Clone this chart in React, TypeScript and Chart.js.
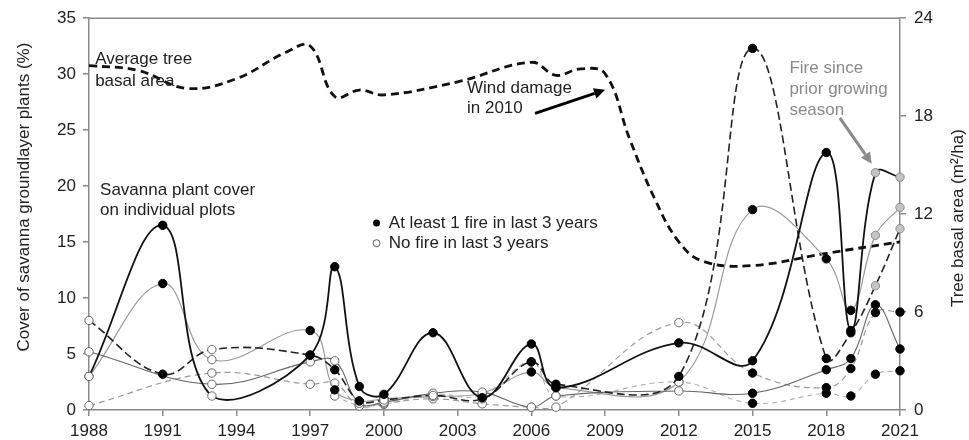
import React, { useEffect, useRef } from "react";
import { Chart, registerables } from "chart.js";
Chart.register(...registerables);

// ---------- DATA ----------
const years = [1988, 1991, 1993, 1997, 1998, 1999, 2000, 2002, 2004, 2006, 2007, 2012, 2015, 2018, 2019, 2020, 2021];

// groundlayer cover (%) on individual plots; null = not sampled
const plotA = [3.0, 16.5, 1.25, 4.9, 12.8, 2.1, 1.4, 6.9, 1.1, 5.9, 2.0, 6.0, 4.4, 23.0, 7.1, 21.2, 20.8];
const plotB = [8.0, 3.2, 5.4, 4.9, 3.6, 0.8, 0.9, 1.3, 1.0, 4.3, 2.3, 3.0, 32.3, 4.6, 6.9, 11.1, 16.2];
const plotC = [5.2, null, 2.3, 4.3, 4.4, 0.6, 0.7, 1.5, 1.6, 0.25, 1.25, 1.7, 1.5, 3.6, 4.6, 9.4, 5.45];
const plotD = [3.0, 11.3, 4.5, 7.1, 1.8, 0.8, 1.0, 1.2, 1.5, 3.4, 2.0, 2.5, 17.9, 13.5, 8.9, 15.6, 18.1];
const plotE = [0.4, null, 3.3, 2.3, 2.4, 0.35, 0.6, 1.0, 0.55, 0.25, 0.25, 7.8, 3.3, 2.0, 3.7, 8.7, 8.75];
const plotF = [null, null, null, null, 1.25, 0.4, 0.5, 1.4, 1.3, 4.3, 1.25, 2.5, 0.6, 1.5, 1.25, 3.2, 3.5];

// fire status per sample: F = at least 1 fire in last 3 years, O = no fire, G = fire since prior growing season
const fireA = "OFOFFFFFFFFFFFFGG";
const fireB = "OFOFFFOOOFFFFFFGG";
const fireC = "O-OOOOOOOOOOFFFFF";
const fireD = "OFOFFFFOOFFOFFFGG";
const fireE = "O-OOOOOOOOOOFFFFF";
const fireF = "----OOOOOFOOFFFFF";

// average tree basal area (m2/ha)
const basalYears = [1988, 1990, 1992, 1994, 1996, 1997, 1998, 1999, 2000, 2003, 2006, 2007, 2008, 2009, 2010, 2011, 2012, 2013, 2015, 2018, 2021];
const basalArea = [21.1, 20.8, 19.7, 20.3, 21.9, 22.3, 19.2, 19.6, 19.3, 20.1, 21.3, 20.5, 20.9, 20.6, 16.6, 13.0, 10.3, 9.1, 8.85, 9.6, 10.3];

const xTickYears = { min: 1988, max: 2021, step: 3 };
const coverTicks = { min: 0, max: 35, step: 5 };
const basalTicks = { min: 0, max: 24, step: 6 };

const leftTitle = "Cover of savanna groundlayer plants (%)";
const rightTitle = "Tree basal area (m\u00B2/ha)";
const legendFire = "At least 1 fire in last 3 years";
const legendNoFire = "No fire in last 3 years";
const noteBasal = ["Average tree", "basal area"];
const noteCover = ["Savanna plant cover", "on individual plots"];
const noteWind = ["Wind damage", "in 2010"];
const noteFire = ["Fire since", "prior growing", "season"];

// ---------- STYLE ----------
const FONT = "'Liberation Sans', Arial, Helvetica, sans-serif";
const AXIS = "#8a8a8a";
const TXT = "#222";

function buildSeries(vals: (number | null)[], fire: string) {
  const pts: { x: number; y: number }[] = [];
  const bg: string[] = [];
  const bd: string[] = [];
  vals.forEach((v, i) => {
    if (v === null) return;
    pts.push({ x: years[i], y: v });
    const s = fire[i];
    bg.push(s === "F" ? "#000" : s === "G" ? "#c4c4c4" : "#fff");
    bd.push(s === "F" ? "#000" : s === "G" ? "#8a8a8a" : "#666");
  });
  return { pts, bg, bd };
}

function arrow(ctx: CanvasRenderingContext2D, x1: number, y1: number, x2: number, y2: number, color: string, w: number, head: number) {
  const ang = Math.atan2(y2 - y1, x2 - x1);
  const bx = x2 - head * Math.cos(ang);
  const by = y2 - head * Math.sin(ang);
  ctx.strokeStyle = color;
  ctx.fillStyle = color;
  ctx.lineWidth = w;
  ctx.setLineDash([]);
  ctx.beginPath();
  ctx.moveTo(x1, y1);
  ctx.lineTo(bx, by);
  ctx.stroke();
  ctx.beginPath();
  ctx.moveTo(x2, y2);
  ctx.lineTo(bx + head * 0.5 * Math.sin(ang), by - head * 0.5 * Math.cos(ang));
  ctx.lineTo(bx - head * 0.5 * Math.sin(ang), by + head * 0.5 * Math.cos(ang));
  ctx.closePath();
  ctx.fill();
}

const annotPlugin = {
  id: "annot",
  afterDatasetsDraw(chart: any) {
    const { ctx, chartArea: a, scales } = chart;
    const X = (v: number) => scales.x.getPixelForValue(v);
    const Y = (v: number) => scales.y.getPixelForValue(v);
    ctx.save();
    // top frame line
    ctx.strokeStyle = AXIS;
    ctx.lineWidth = 1.5;
    ctx.beginPath();
    ctx.moveTo(a.left, a.top);
    ctx.lineTo(a.right, a.top);
    ctx.stroke();

    ctx.font = `17px ${FONT}`;
    ctx.textBaseline = "middle";
    ctx.textAlign = "left";
    ctx.fillStyle = TXT;
    // Average tree basal area
    ctx.fillText(noteBasal[0], X(1988.25), Y(31.3));
    ctx.fillText(noteBasal[1], X(1988.25), Y(29.4));
    // Savanna plant cover
    ctx.fillText(noteCover[0], X(1988.45), Y(19.6));
    ctx.fillText(noteCover[1], X(1988.45), Y(17.8));
    // Wind damage
    ctx.fillText(noteWind[0], X(2003.38), Y(28.75));
    ctx.fillText(noteWind[1], X(2003.38), Y(26.95));
    arrow(ctx, X(2006.15), Y(26.5), X(2009.0), Y(28.6), "#000", 3, 11);
    // Fire since prior growing season
    ctx.fillStyle = "#8a8a8a";
    ctx.fillText(noteFire[0], X(2016.5), Y(30.5));
    ctx.fillText(noteFire[1], X(2016.5), Y(28.65));
    ctx.fillText(noteFire[2], X(2016.5), Y(26.8));
    arrow(ctx, X(2018.55), Y(26.1), X(2019.85), Y(22.0), "#8a8a8a", 3, 11);

    // legend
    ctx.fillStyle = TXT;
    ctx.fillText(legendFire, X(2000.2), Y(16.7));
    ctx.fillText(legendNoFire, X(2000.2), Y(14.9));
    ctx.beginPath();
    ctx.arc(X(1999.7), Y(16.7), 3.5, 0, Math.PI * 2);
    ctx.fillStyle = "#000";
    ctx.fill();
    ctx.beginPath();
    ctx.arc(X(1999.7), Y(14.9), 3.5, 0, Math.PI * 2);
    ctx.fillStyle = "#fff";
    ctx.fill();
    ctx.strokeStyle = "#555";
    ctx.lineWidth = 1;
    ctx.stroke();

    // axis titles
    ctx.fillStyle = TXT;
    ctx.textAlign = "center";
    ctx.font = `17px ${FONT}`;
    ctx.save();
    ctx.translate(24, (a.top + a.bottom) / 2 - 17);
    ctx.rotate(-Math.PI / 2);
    ctx.fillText(leftTitle, 0, 0);
    ctx.restore();
    ctx.save();
    ctx.translate(958, (a.top + a.bottom) / 2 + 4);
    ctx.rotate(-Math.PI / 2);
    ctx.fillText(rightTitle, 0, 0);
    ctx.restore();

    ctx.restore();
  },
};

const lineStyles = [
  { data: plotA, fire: fireA, color: "#111", width: 1.8, dash: [] as number[] },
  { data: plotB, fire: fireB, color: "#222", width: 1.6, dash: [8, 4] },
  { data: plotC, fire: fireC, color: "#666", width: 1.1, dash: [] as number[] },
  { data: plotD, fire: fireD, color: "#9a9a9a", width: 1.2, dash: [] as number[] },
  { data: plotE, fire: fireE, color: "#9a9a9a", width: 1.2, dash: [6, 4] },
  { data: plotF, fire: fireF, color: "#b0b0b0", width: 1.1, dash: [5, 4] },
];

export default function App() {
  const ref = useRef<HTMLCanvasElement | null>(null);
  useEffect(() => {
    if (!ref.current) return;
    const datasets: any[] = lineStyles.map((s) => {
      const b = buildSeries(s.data, s.fire);
      return {
        data: b.pts,
        yAxisID: "y",
        borderColor: s.color,
        borderWidth: s.width,
        borderDash: s.dash,
        tension: 0.4,
        pointRadius: 4.2,
        pointBorderWidth: 1,
        pointBackgroundColor: b.bg,
        pointBorderColor: b.bd,
        fill: false,
        clip: false,
      };
    });
    datasets.push({
      data: basalYears.map((yr, i) => ({ x: yr, y: basalArea[i] })),
      yAxisID: "y2",
      borderColor: "#111",
      borderWidth: 2.8,
      borderDash: [8, 5],
      tension: 0.4,
      pointRadius: 0,
      fill: false,
    });
    const tickFont = { family: FONT, size: 17 };
    const chart = new Chart(ref.current, {
      type: "line",
      data: { datasets },
      plugins: [annotPlugin],
      options: {
        animation: false,
        responsive: false,
        layout: { padding: { top: 18, left: 0, right: 0, bottom: 0 } },
        plugins: { legend: { display: false }, tooltip: { enabled: false } },
        scales: {
          x: {
            type: "linear",
            min: xTickYears.min,
            max: xTickYears.max,
            ticks: { stepSize: xTickYears.step, callback: (v: any) => String(v), color: TXT, font: tickFont, padding: 5, maxRotation: 0, autoSkip: false },
            grid: { drawOnChartArea: false, drawTicks: true, tickLength: 6, color: AXIS, lineWidth: 1.5 },
            border: { display: true, color: AXIS, width: 1.5 },
            afterFit: (s: any) => { s.height = 30; },
          },
          y: {
            position: "left",
            min: coverTicks.min,
            max: coverTicks.max,
            ticks: { stepSize: coverTicks.step, color: TXT, font: tickFont, padding: 7 },
            grid: { drawOnChartArea: false, drawTicks: true, tickLength: 6, color: AXIS, lineWidth: 1.5 },
            border: { display: true, color: AXIS, width: 1.5 },
            afterFit: (s: any) => { s.width = 89; },
          },
          y2: {
            position: "right",
            min: basalTicks.min,
            max: basalTicks.max,
            ticks: { stepSize: basalTicks.step, color: TXT, font: tickFont, padding: 8 },
            grid: { drawOnChartArea: false, drawTicks: true, tickLength: 6, color: AXIS, lineWidth: 1.5 },
            border: { display: true, color: AXIS, width: 1.5 },
            afterFit: (s: any) => { s.width = 69; },
          },
        },
      } as any,
    });
    return () => chart.destroy();
  }, []);
  return (
    <div style={{ position: "absolute", left: 0, top: 0, width: 969, height: 440, background: "#fff" }}>
      <canvas ref={ref} width={969} height={440} style={{ display: "block" }} />
    </div>
  );
}
